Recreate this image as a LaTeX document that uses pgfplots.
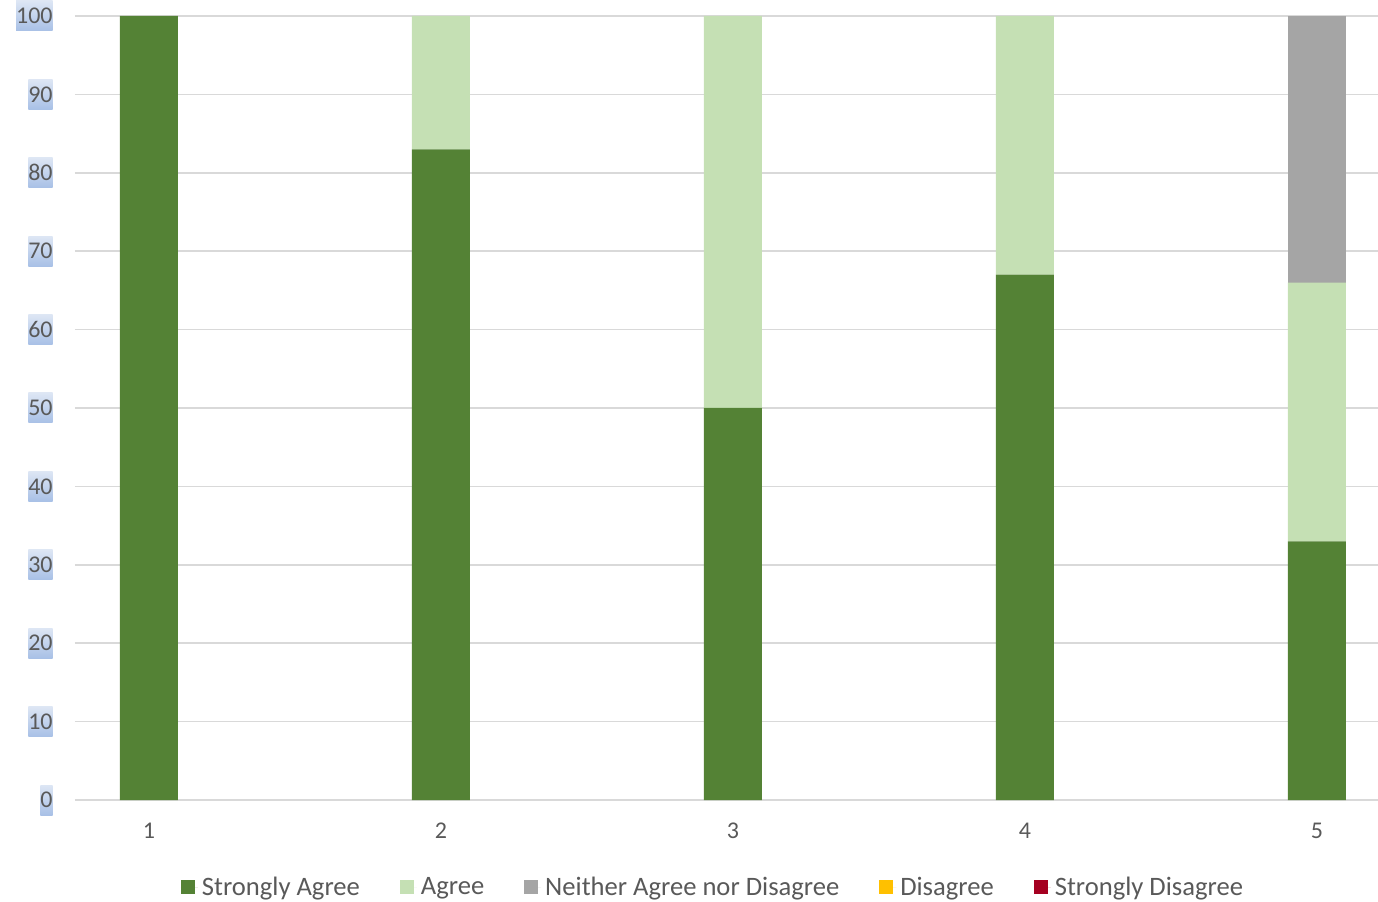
\documentclass[border=0pt]{standalone}
\usepackage{pgfplots}
\pgfplotsset{compat=1.18}
\usepackage{fontspec}
\setmainfont{Carlito}
\definecolor{sagree}{HTML}{548235}
\definecolor{agree}{HTML}{C5E0B4}
\definecolor{neither}{HTML}{A5A5A5}
\definecolor{disagree}{HTML}{FFC000}
\definecolor{sdisagree}{HTML}{A50021}
\definecolor{txt}{HTML}{595959}
\definecolor{gridc}{HTML}{D9D9D9}
\definecolor{hltop}{HTML}{DDE6F4}
\definecolor{hlbot}{HTML}{A8C0E6}
\begin{document}
\begin{tikzpicture}
\useasboundingbox (-37.5pt,-50.5pt) rectangle (651.5pt,400pt);
\begin{axis}[
  anchor=south west, at={(0,0)},
  scale only axis,
  width=651.5pt, height=392pt,
  ybar stacked,
  bar width=29pt,
  xmin=0.7466, xmax=5.209,
  ymin=0, ymax=100,
  xtick={1,2,3,4,5},
  ytick={0,10,...,100},
  ymajorgrids,
  grid style={gridc, line width=0.75pt},
  axis line style={draw=none},
  major tick length=0pt,
  /pgf/number format/assume math mode=true,
  tick label style={font=\fontsize{12}{14}\selectfont, text=txt},
  yticklabel style={top color=hltop, bottom color=hlbot, inner xsep=0pt, inner ysep=0pt, minimum height=15pt, xshift=-11pt},
  xticklabel style={yshift=-8pt},
  legend columns=5,
  legend style={at={(0.4904,-0.1115)}, anchor=center, draw=none, fill=none,
    font=\fontsize{13.3}{15}\selectfont, text=txt,
    /tikz/every even column/.append style={column sep=18pt}},
  legend image code/.code={\fill[#1] (0pt,-3.5pt) rectangle (7pt,3.5pt); \path (0pt,0pt) -- (8.5pt,0pt);},
]
\addplot[fill=sagree, draw=none] coordinates {(1,100) (2,83) (3,50) (4,67) (5,33)};
\addplot[fill=agree, draw=none] coordinates {(1,0) (2,17) (3,50) (4,33) (5,33)};
\addplot[fill=neither, draw=none] coordinates {(1,0) (2,0) (3,0) (4,0) (5,34)};
\addplot[fill=disagree, draw=none] coordinates {(1,0) (2,0) (3,0) (4,0) (5,0)};
\addplot[fill=sdisagree, draw=none] coordinates {(1,0) (2,0) (3,0) (4,0) (5,0)};
\draw[gridc, line width=0.75pt] (rel axis cs:0,0) -- (rel axis cs:1,0);
\legend{Strongly Agree, Agree, Neither Agree nor Disagree, Disagree, Strongly Disagree}
\end{axis}
\end{tikzpicture}
\end{document}
